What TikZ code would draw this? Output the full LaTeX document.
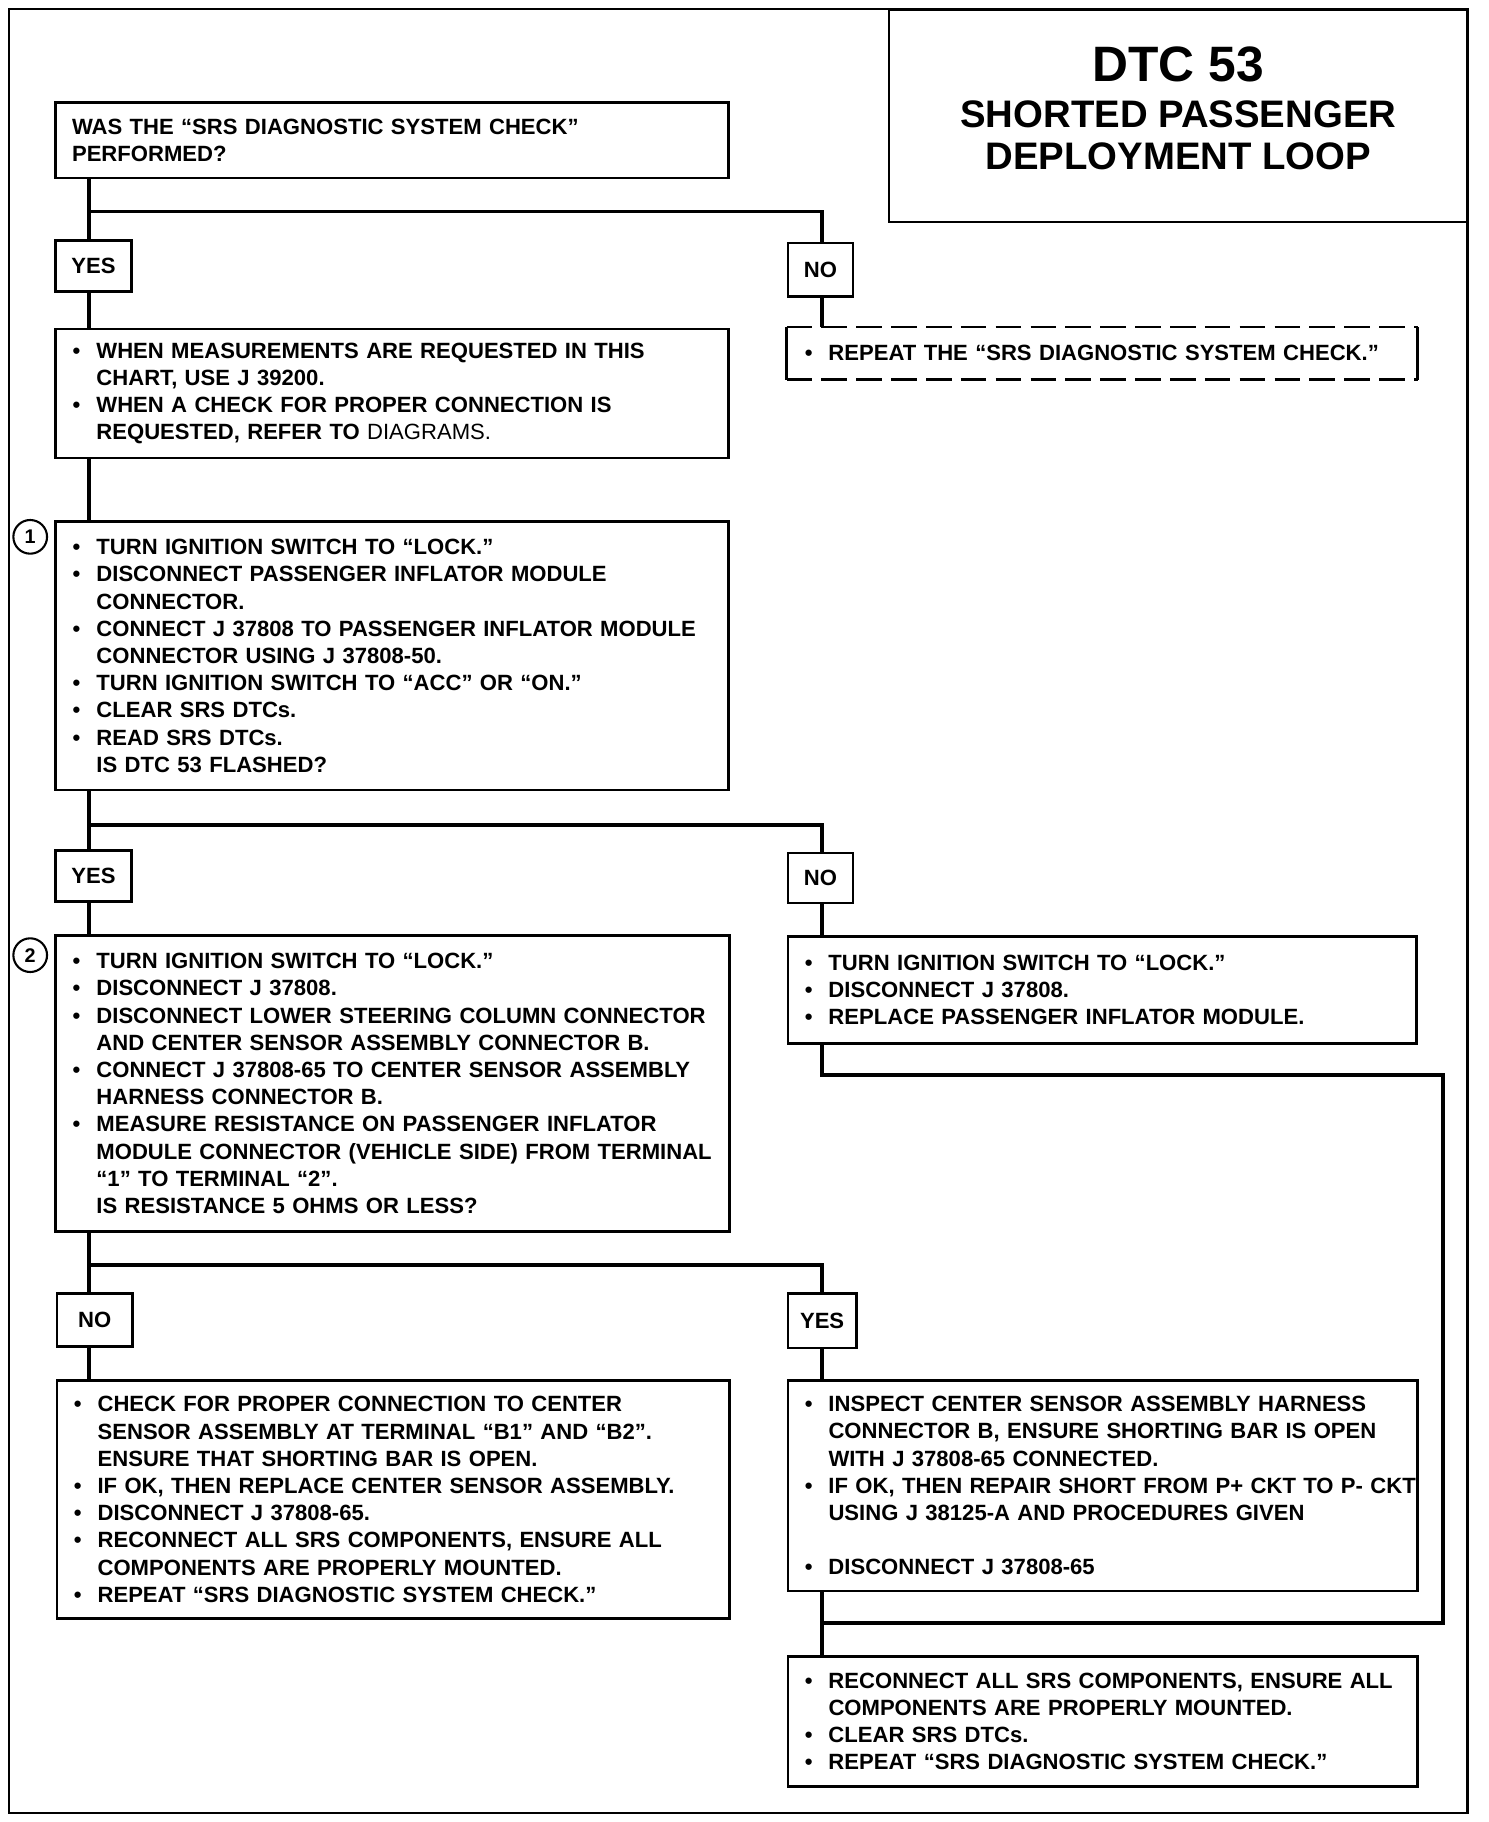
\documentclass[tikz,border=0pt]{standalone}
\usepackage{fontspec}
\setmainfont{Liberation Sans}
\newcommand\bulln[1]{\mbox{\makebox[10.5pt][l]{\hspace{0.3pt}\textbullet}#1}}
\newcommand\contl[1]{\mbox{\hspace*{10.5pt}#1}}
\tikzset{
  conn/.style={line width=1.7pt},
  box/.style={draw, line width=1.1pt, rectangle, inner xsep=7pt, inner ysep=0pt, align=left,
    font=\bfseries\fontsize{9.5}{11.7}\selectfont},
  lab/.style={draw, line width=1.1pt, rectangle, inner sep=0pt,
    font=\bfseries\fontsize{9.5}{11.7}\selectfont},
  num/.style={draw, circle, line width=0.9pt, inner sep=0pt, minimum size=14.5pt,
    font=\bfseries\fontsize{8.5}{8.5}\selectfont},
  ttl/.style={anchor=base, inner sep=0pt, font=\bfseries},
  dashedge/.style={line width=1.1pt, dash pattern=on 11pt off 4pt}
}
\begin{document}
\begin{tikzpicture}[x=0.5pt,y=-0.5pt]
\useasboundingbox (0,0) rectangle (1281,1568);
% outer frame
\draw[line width=1pt] (8,8) rectangle (1263,1560);
% title
\node[draw, line width=1.1pt, minimum width=249pt, minimum height=91.5pt, inner sep=0pt] (title) at (1014,99.5) {};
\node[ttl, font=\bfseries\fontsize{21.4}{21.4}\selectfont] (t1) at (1014,70) {DTC 53};
\node[ttl, font=\bfseries\fontsize{16.5}{16.5}\selectfont] (t2) at (1014,110) {SHORTED PASSENGER};
\node[ttl, font=\bfseries\fontsize{16.5}{16.5}\selectfont] (t3) at (1014,146) {DEPLOYMENT LOOP};

% coordinates
\coordinate (L) at (77,0);
\coordinate (R) at (707,0);
\coordinate (j1) at (77,182);
\coordinate (j2) at (77,710);
\coordinate (j3) at (77,1089);
\coordinate (k2) at (1242,925);
\coordinate (k3) at (1242,1397);
\coordinate (k4) at (707,1397);

% boxes
\node[box, minimum width=289.5pt, minimum height=32.5pt, text width=275.5pt] (Q) at (337.5,120.5)
 {\mbox{WAS THE “SRS DIAGNOSTIC SYSTEM CHECK”}\\PERFORMED?};

\node[lab, minimum width=32.5pt, minimum height=22pt] (yes1) at (80.5,229) {YES};
\node[lab, minimum width=28pt, minimum height=23pt] (no1) at (706,232) {NO};

\node[box, minimum width=289.5pt, minimum height=55.5pt, text width=275.5pt] (A) at (337.5,338.5)
 {\bulln{WHEN MEASUREMENTS ARE REQUESTED IN THIS}\\
  \contl{CHART, USE J 39200.}\\
  \bulln{WHEN A CHECK FOR PROPER CONNECTION IS}\\
  \contl{REQUESTED, REFER TO {\mdseries DIAGRAMS.}}};

\node[box, draw=none, minimum width=270.5pt, minimum height=21.5pt, text width=256.5pt] (rep) at (948.5,304)
 {\bulln{REPEAT THE “SRS DIAGNOSTIC SYSTEM CHECK.”}};
\draw[dashedge] (rep.north west) -- (rep.north east);
\draw[dashedge] (rep.south west) -- (rep.south east);
\draw[line width=1.1pt] (rep.north west) -- (rep.south west);
\draw[line width=1.1pt] (rep.north east) -- (rep.south east);

\node[num] (c1) at (26,462) {1};
\node[box, minimum width=289.5pt, minimum height=115.5pt, text width=275.5pt] (B) at (337.5,564.5)
 {\bulln{TURN IGNITION SWITCH TO “LOCK.”}\\
  \bulln{DISCONNECT PASSENGER INFLATOR MODULE}\\
  \contl{CONNECTOR.}\\
  \bulln{CONNECT J 37808 TO PASSENGER INFLATOR MODULE}\\
  \contl{CONNECTOR USING J 37808-50.}\\
  \bulln{TURN IGNITION SWITCH TO “ACC” OR “ON.”}\\
  \bulln{CLEAR SRS DTCs.}\\
  \bulln{READ SRS DTCs.}\\
  \contl{IS DTC 53 FLASHED?}};

\node[lab, minimum width=32.5pt, minimum height=22pt] (yes2) at (80.5,754) {YES};
\node[lab, minimum width=28pt, minimum height=21.5pt] (no2) at (706,755.5) {NO};

\node[num] (c2) at (26,822) {2};
\node[box, minimum width=290pt, minimum height=127.5pt, text width=276pt] (C) at (338,932.5)
 {\bulln{TURN IGNITION SWITCH TO “LOCK.”}\\
  \bulln{DISCONNECT J 37808.}\\
  \bulln{DISCONNECT LOWER STEERING COLUMN CONNECTOR}\\
  \contl{AND CENTER SENSOR ASSEMBLY CONNECTOR B.}\\
  \bulln{CONNECT J 37808-65 TO CENTER SENSOR ASSEMBLY}\\
  \contl{HARNESS CONNECTOR B.}\\
  \bulln{MEASURE RESISTANCE ON PASSENGER INFLATOR}\\
  \contl{MODULE CONNECTOR (VEHICLE SIDE) FROM TERMINAL}\\
  \contl{“1” TO TERMINAL “2”.}\\
  \contl{IS RESISTANCE 5 OHMS OR LESS?}};

\node[box, minimum width=270.5pt, minimum height=46pt, text width=256.5pt] (nob) at (948.5,852)
 {\bulln{TURN IGNITION SWITCH TO “LOCK.”}\\
  \bulln{DISCONNECT J 37808.}\\
  \bulln{REPLACE PASSENGER INFLATOR MODULE.}};

\node[lab, minimum width=32.5pt, minimum height=23pt] (no3) at (81.5,1136) {NO};
\node[lab, minimum width=29.5pt, minimum height=23.5pt] (yes3) at (707.5,1136.5) {YES};

\node[box, minimum width=289.5pt, minimum height=102.5pt, text width=275.5pt] (D) at (338.5,1290.5)
 {\bulln{CHECK FOR PROPER CONNECTION TO CENTER}\\
  \contl{SENSOR ASSEMBLY AT TERMINAL “B1” AND “B2”.}\\
  \contl{ENSURE THAT SHORTING BAR IS OPEN.}\\
  \bulln{IF OK, THEN REPLACE CENTER SENSOR ASSEMBLY.}\\
  \bulln{DISCONNECT J 37808-65.}\\
  \bulln{RECONNECT ALL SRS COMPONENTS, ENSURE ALL}\\
  \contl{COMPONENTS ARE PROPERLY MOUNTED.}\\
  \bulln{REPEAT “SRS DIAGNOSTIC SYSTEM CHECK.”}};

\node[box, minimum width=271pt, minimum height=90.5pt, text width=257pt] (E) at (949,1278.5)
 {\bulln{INSPECT CENTER SENSOR ASSEMBLY HARNESS}\\
  \contl{CONNECTOR B, ENSURE SHORTING BAR IS OPEN}\\
  \contl{WITH J 37808-65 CONNECTED.}\\
  \bulln{IF OK, THEN REPAIR SHORT FROM P+ CKT TO P- CKT}\\
  \contl{USING J 38125-A AND PROCEDURES GIVEN}\\[11.7pt]
  \bulln{DISCONNECT J 37808-65}};

\node[box, minimum width=271pt, minimum height=56pt, text width=257pt] (F) at (949,1481.5)
 {\bulln{RECONNECT ALL SRS COMPONENTS, ENSURE ALL}\\
  \contl{COMPONENTS ARE PROPERLY MOUNTED.}\\
  \bulln{CLEAR SRS DTCs.}\\
  \bulln{REPEAT “SRS DIAGNOSTIC SYSTEM CHECK.”}};

% connectors
\draw[conn] (Q.south -| L) -- (yes1.north -| L);
\draw[conn] (j1) -| (no1.north -| R);
\draw[conn] (yes1.south -| L) -- (A.north -| L);
\draw[conn] (no1.south -| R) -- (rep.north -| R);
\draw[conn] (A.south -| L) -- (B.north -| L);
\draw[conn] (B.south -| L) -- (yes2.north -| L);
\draw[conn] (j2) -| (no2.north -| R);
\draw[conn] (yes2.south -| L) -- (C.north -| L);
\draw[conn] (no2.south -| R) -- (nob.north -| R);
\draw[conn] (C.south -| L) -- (no3.north -| L);
\draw[conn] (j3) -| (yes3.north -| R);
\draw[conn] (no3.south -| L) -- (D.north -| L);
\draw[conn] (yes3.south -| R) -- (E.north -| R);
\draw[conn] (nob.south -| R) |- (k2) -- (k3) -- (k4);
\draw[conn] (E.south -| R) -- (F.north -| R);
\end{tikzpicture}
\end{document}
